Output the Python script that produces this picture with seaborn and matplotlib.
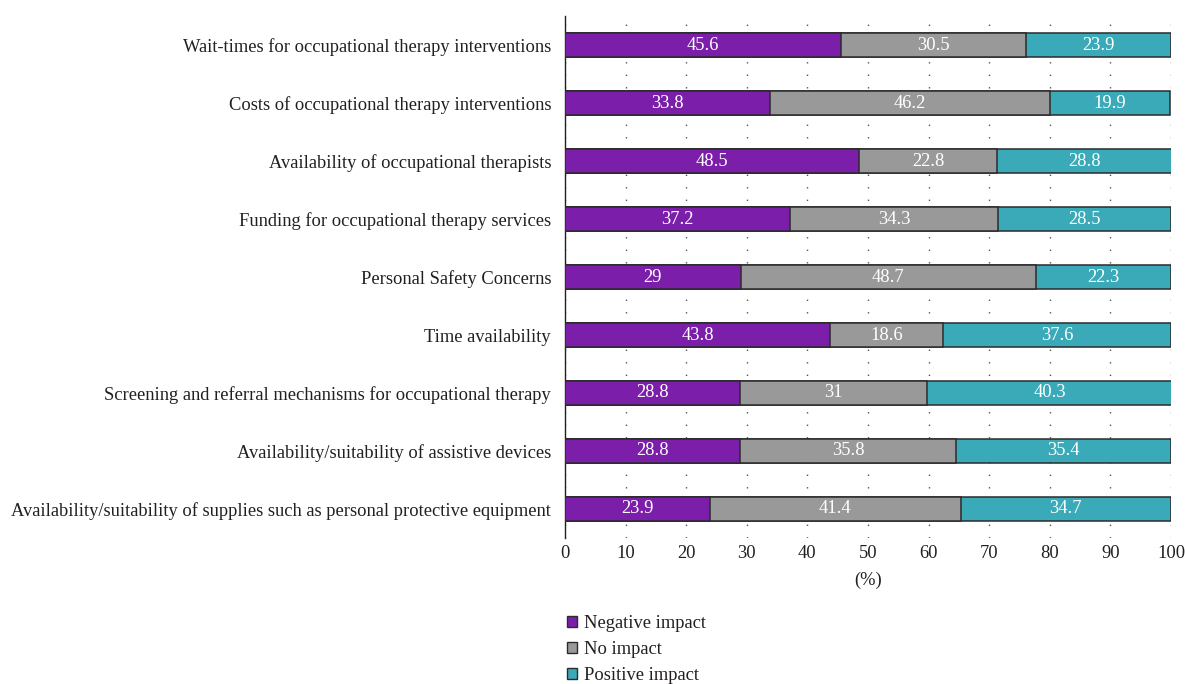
import pandas as pd
import numpy as np
import matplotlib.pyplot as plt
import seaborn as sns
from matplotlib.patches import Patch
from matplotlib.ticker import FixedLocator

categories = [
    "Wait-times for occupational therapy interventions",
    "Costs of occupational therapy interventions",
    "Availability of occupational therapists",
    "Funding for occupational therapy services",
    "Personal Safety Concerns",
    "Time availability",
    "Screening and referral mechanisms for occupational therapy",
    "Availability/suitability of assistive devices",
    "Availability/suitability of supplies such as personal protective equipment",
]
negative = [45.6, 33.8, 48.5, 37.2, 29, 43.8, 28.8, 28.8, 23.9]
no_impact = [30.5, 46.2, 22.8, 34.3, 48.7, 18.6, 31, 35.8, 41.4]
positive = [23.9, 19.9, 28.8, 28.5, 22.3, 37.6, 40.3, 35.4, 34.7]
series = ["Negative impact", "No impact", "Positive impact"]
colors = ["#7B1FAA", "#999999", "#3AAAB8"]

df = pd.DataFrame({"cat": categories, "neg": negative, "no": no_impact, "pos": positive})
df["c1"] = df["neg"]
df["c2"] = df["neg"] + df["no"]
df["c3"] = df["neg"] + df["no"] + df["pos"]

sns.set_style("white")
plt.rcParams["font.family"] = ["Liberation Serif", "DejaVu Serif"]
plt.rcParams["text.color"] = "#231F20"
plt.rcParams["xtick.color"] = "#231F20"
plt.rcParams["ytick.color"] = "#231F20"
plt.rcParams["axes.labelcolor"] = "#231F20"
fs = 13.3
edge = "#2B2B2B"

fig = plt.figure(figsize=(11.85, 6.84), dpi=100)
ax = fig.add_axes([0.4768, 0.2135, 0.5114, 0.763])

# stacked bars: draw cumulative totals on top of each other
for col, c in zip(["c3", "c2", "c1"], colors[::-1]):
    sns.barplot(data=df, x=col, y="cat", color=c, saturation=1, width=0.42, ax=ax,
                edgecolor=edge, linewidth=1.1, orient="h", zorder=3)

# value labels
for i in range(len(categories)):
    starts = [0, df["c1"][i], df["c2"][i]]
    vals = [negative[i], no_impact[i], positive[i]]
    for s, v in zip(starts, vals):
        ax.text(s + v / 2, i, f"{v:g}", ha="center", va="center",
                color="white", fontsize=fs, zorder=5)

ax.set_xlim(0, 100)
ax.set_ylim(len(categories) - 0.5, -0.5)
ax.set_xticks(np.arange(0, 101, 10))
ax.tick_params(axis="x", length=0, labelsize=fs, pad=5)
ax.set_xlabel("(%)", fontsize=fs, labelpad=7)
ax.set_ylabel("")
ax.tick_params(axis="y", which="major", length=0, labelsize=fs, pad=10)
ax.yaxis.set_minor_locator(FixedLocator(np.arange(-0.5, len(categories), 1)))
ax.tick_params(axis="y", which="minor", length=5, color="#231F20", width=1, direction="out")

ax.grid(axis="x", color="#555555", linestyle=(0, (1, 8)), linewidth=1, zorder=0)
ax.set_axisbelow(True)
for s in ["top", "right", "bottom"]:
    ax.spines[s].set_visible(False)
ax.spines["left"].set_color("#231F20")
ax.spines["left"].set_linewidth(1)

handles = [Patch(facecolor=c, edgecolor=edge, linewidth=1, label=l)
           for c, l in zip(colors, series)]
fig.legend(handles=handles, loc="upper left", bbox_to_anchor=(0.4725, 0.111),
           frameon=False, fontsize=fs, handlelength=0.55, handleheight=0.55,
           handletextpad=0.35, labelspacing=0.48, borderaxespad=0)

fig.savefig("out.png", dpi=100)
